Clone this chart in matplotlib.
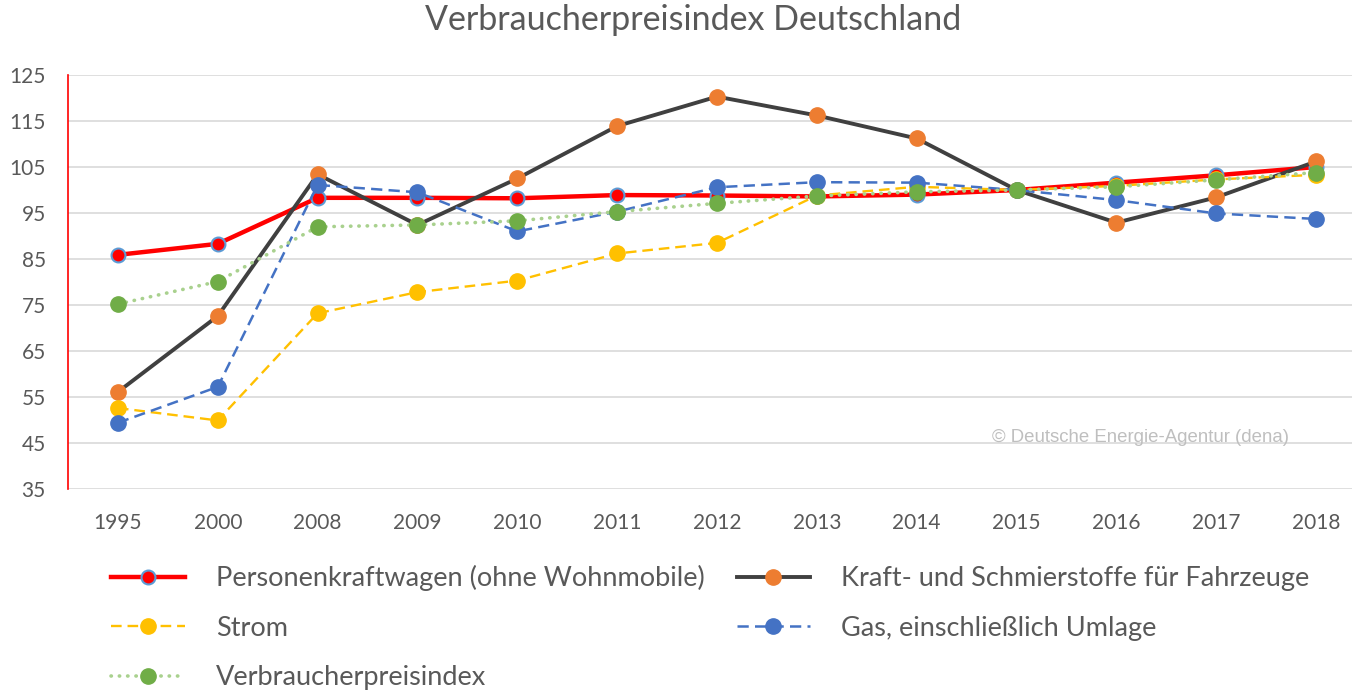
import matplotlib.pyplot as plt
import numpy as np

years = ["1995", "2000", "2008", "2009", "2010", "2011", "2012",
         "2013", "2014", "2015", "2016", "2017", "2018"]

pkw = [85.9, 88.3, 98.3, 98.3, 98.2, 98.9, 98.8, 98.6, 99.0, 100.0, 101.6, 103.2, 105.0]
kraft = [56.1, 72.6, 103.4, 92.4, 102.5, 113.9, 120.3, 116.2, 111.2, 100.0, 92.9, 98.4, 106.2]
strom = [52.6, 49.9, 73.2, 77.8, 80.3, 86.2, 88.5, 98.8, 100.7, 100.0, 100.9, 102.3, 103.3]
gas = [49.4, 57.2, 101.1, 99.5, 91.0, 95.3, 100.6, 101.7, 101.6, 100.0, 97.8, 94.9, 93.7]
vpi = [75.2, 80.1, 92.0, 92.4, 93.3, 95.3, 97.1, 98.7, 99.6, 100.0, 100.7, 102.2, 103.8]

labels = ["Personenkraftwagen (ohne Wohnmobile)", "Kraft- und Schmierstoffe für Fahrzeuge",
          "Strom", "Gas, einschließlich Umlage", "Verbraucherpreisindex"]
yticks = np.arange(35, 126, 10)

plt.rcParams['font.family'] = ['Lato', 'DejaVu Sans']
txt = "#595959"

fig = plt.figure(figsize=(13.52, 6.90), dpi=100)
ax = fig.add_axes([68 / 1352, 1 - 489 / 690, 1298 / 1352, 414 / 690])
x = np.arange(len(years))

h_p, = ax.plot(x, pkw, color="#FF0000", lw=3.2, marker="o", ms=10,
               mfc="#FF0000", mec="#5B9BD5", mew=1.5, label=labels[0])
h_k, = ax.plot(x, kraft, color="#404040", lw=2.8, marker="o", ms=11,
               mfc="#ED7D31", mec="#ED7D31", label=labels[1])
h_s, = ax.plot(x, strom, color="#FFC000", lw=1.7, ls=(0, (4.5, 2.5)), marker="o", ms=11,
               mfc="#FFC000", mec="#FFC000", label=labels[2])
h_g, = ax.plot(x, gas, color="#4472C4", lw=1.8, ls=(0, (4.5, 2.5)), marker="o", ms=11,
               mfc="#4472C4", mec="#4472C4", label=labels[3])
h_v, = ax.plot(x, vpi, color="#A9D18E", lw=2.6, ls=(0, (0.1, 2.2)), dash_capstyle="round",
               marker="o", ms=11, mfc="#70AD47", mec="#70AD47", label=labels[4])

ax.set_xlim(-0.5, 12.5)
ax.set_ylim(35, 125)
ax.set_yticks(yticks)
ax.set_xticks(x)
ax.set_xticklabels(years)
ax.grid(axis="y", color="#D9D9D9", lw=1.2)
ax.set_axisbelow(True)
for s in ["top", "right", "bottom"]:
    ax.spines[s].set_visible(False)
ax.spines["left"].set_color("#FF0000")
ax.spines["left"].set_linewidth(1.2)
ax.tick_params(length=0, labelsize=15, colors=txt)
ax.tick_params(axis="x", pad=17)
ax.tick_params(axis="y", pad=16)

fig.text(693 / 1352, 1 - 20 / 690, "Verbraucherpreisindex Deutschland", ha="center", va="center",
         fontsize=24.5, color=txt)
fig.text(992 / 1352, 1 - 437 / 690, "© Deutsche Energie-Agentur (dena)", ha="left", va="center",
         fontsize=13.4, color="#BFBFBF", family=["Liberation Sans", "DejaVu Sans"])

fig.legend(handles=[h_p, h_s, h_v, h_k, h_g], ncol=2, loc="upper left",
           bbox_to_anchor=(87 / 1352, 1 - 541 / 690), frameon=False,
           fontsize=19.5, labelcolor=txt, handlelength=2.7, handletextpad=1.15,
           columnspacing=1.2, labelspacing=0.9)

fig.savefig("out.png", dpi=100)
